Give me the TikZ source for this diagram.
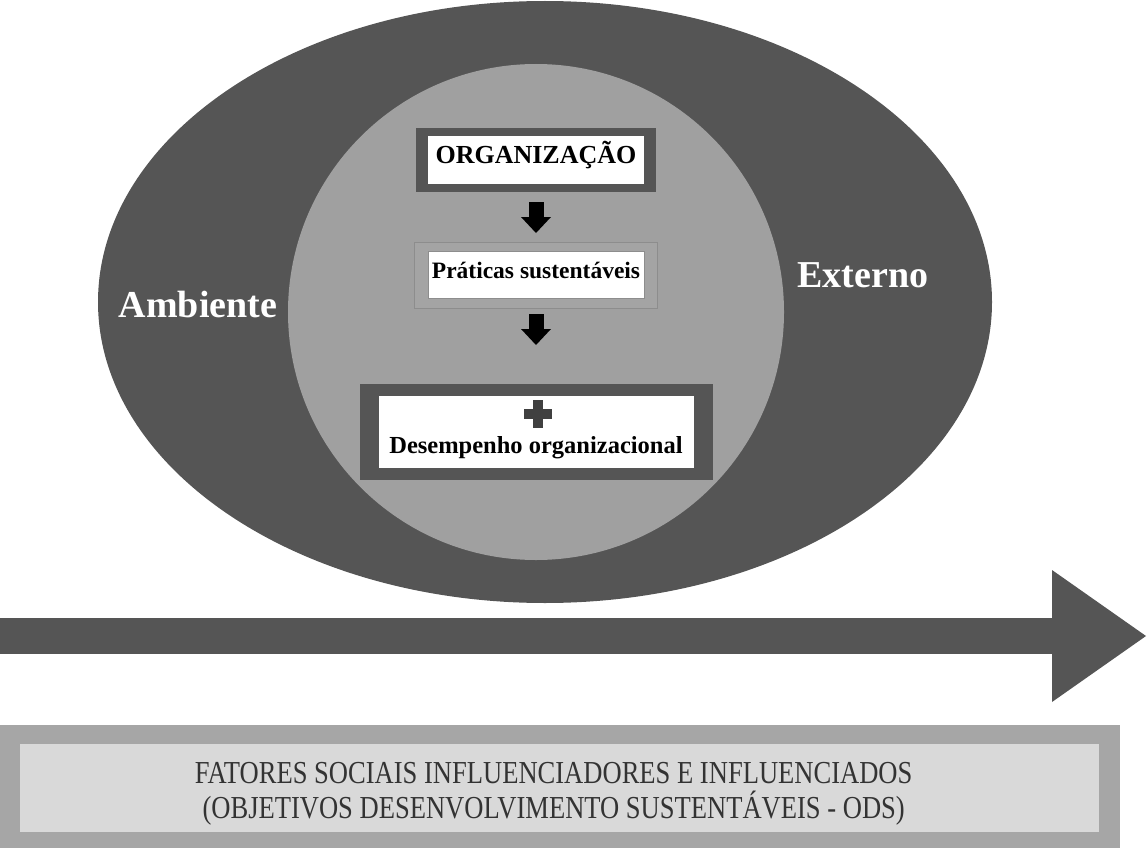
\documentclass[tikz,border=0pt]{standalone}
\usepackage{fontspec}
\setmainfont{Liberation Serif}
\newfontfamily\condserif[FakeStretch=0.83]{Liberation Serif}
\usepackage{tikz}
\usetikzlibrary{positioning, arrows.meta, shapes.geometric}
\definecolor{ringgray}{HTML}{555555}
\definecolor{coregray}{HTML}{A0A0A0}
\definecolor{barout}{HTML}{A6A6A6}
\definecolor{barin}{HTML}{D9D9D9}
\definecolor{bartext}{HTML}{333333}

\begin{document}
\begin{tikzpicture}[x=1pt, y=-1pt, >=Stealth,
    frame/.style={fill=ringgray, inner sep=0pt, outer sep=0pt},
    card/.style={fill=white, inner sep=0pt, outer sep=0pt, text height=0.8em, text depth=0.1em},
    bigword/.style={anchor=base, text=white, font=\bfseries\fontsize{38}{44}\selectfont},
    downarrow/.style={line width=15pt, -{Triangle[length=16pt, width=30pt, line width=0pt]}}]

    \useasboundingbox (0,0) rectangle (1148,848);

    % Draw ellipse and circle
    \node (outer) [ellipse, fill=ringgray, minimum width=894pt, minimum height=602pt, inner sep=0pt] at (545,302) {};
    \node (core) [circle, fill=coregray, minimum size=496pt, inner sep=0pt] at (536,312) {};
    \node (amb) [bigword] at (198,317) {Ambiente};
    \node (ext) [bigword] at (863,287) {Externo};

    % Draw rectangles
    \node (orgframe) [frame, minimum width=240pt, minimum height=64pt] at (536,160) {};
    \node (pratframe) [frame, fill=coregray!96!white, draw=coregray!88!black, line width=1pt, minimum width=243pt, minimum height=66pt, below=50pt of orgframe] {};
    \node (desframe) [frame, minimum width=353pt, minimum height=96pt, below=76pt of pratframe] {};

    \node (org) [card, minimum width=216pt, minimum height=47pt, font=\bfseries\fontsize{26}{30}\selectfont] at (orgframe.center) {ORGANIZAÇÃO};
    \node (prat) [card, draw=coregray!88!black, line width=1pt, minimum width=216pt, minimum height=47pt, font=\bfseries\fontsize{23.5}{28}\selectfont] at (pratframe.center) {Práticas sustentáveis};
    \node (des) [card, minimum width=315pt, minimum height=72pt] at (desframe.center) {};
    \node (destext) [anchor=base, font=\bfseries\fontsize{24.5}{28}\selectfont] at ([yshift=-21pt]des.center) {Desempenho organizacional};
    \fill[ringgray!75!black] ([xshift=2pt, yshift=18pt]des.center) ++(-14,-5) rectangle ++(28,10);
    \fill[ringgray!75!black] ([xshift=2pt, yshift=18pt]des.center) ++(-5,-14) rectangle ++(10,28);

    % Draw arrows
    \draw[downarrow, shorten <=10pt, shorten >=9pt] (orgframe.south) -- (pratframe.north);
    \draw[downarrow, shorten <=6pt, shorten >=39pt] (pratframe.south) -- (desframe.north);

    \coordinate (flowstart) at (0,636);
    \coordinate (flowend) at (1146,636);
    \draw[ringgray, line width=36pt, -{Triangle[length=94pt, width=132pt, line width=0pt]}] (flowstart) -- (flowend);

    % Draw bottom bar
    \node (factframe) [fill=barout, minimum width=1120pt, minimum height=123pt, inner sep=0pt, anchor=north west] at (0,725) {};
    \node (facts) [fill=barin, minimum width=1079pt, minimum height=88pt, inner sep=0pt, anchor=north west] at (20,744) {};
    \node (factstext) [align=center, text=bartext, font=\condserif\fontsize{32}{35}\selectfont] at ([xshift=-6pt, yshift=-6pt]facts.center) {FATORES SOCIAIS INFLUENCIADORES E INFLUENCIADOS\\(OBJETIVOS DESENVOLVIMENTO SUSTENTÁVEIS - ODS)};

\end{tikzpicture}
\end{document}
